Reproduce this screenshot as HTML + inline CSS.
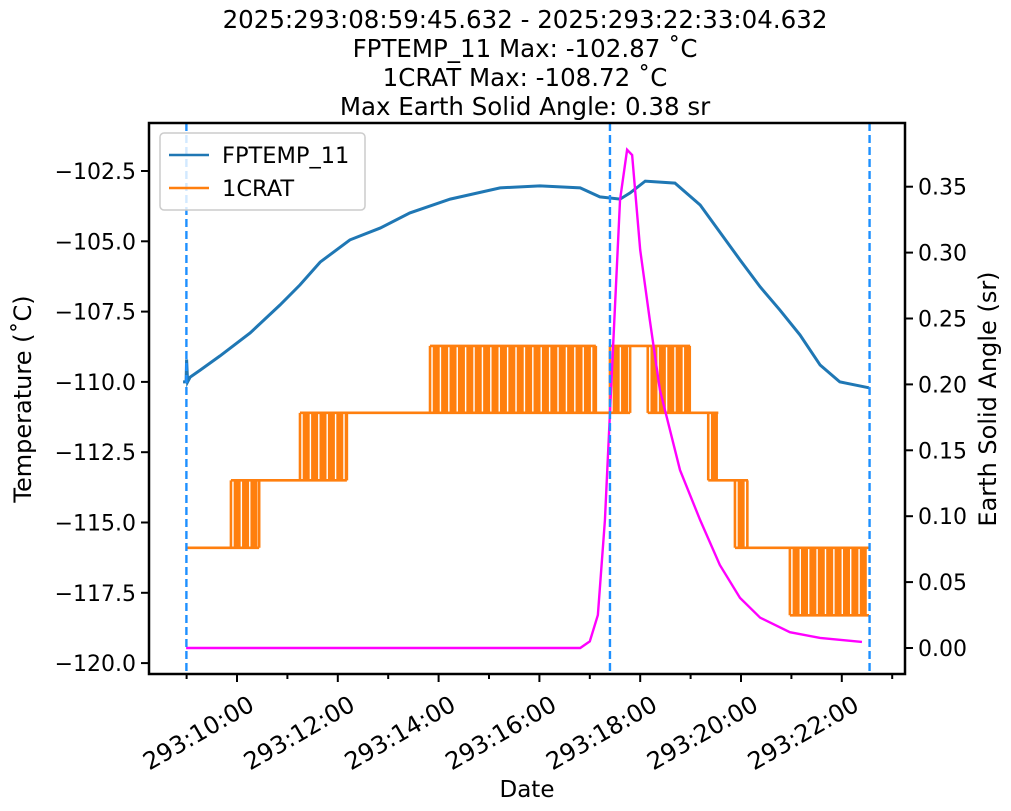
<!DOCTYPE html>
<html><head><meta charset="utf-8">
<style>
html,body{margin:0;padding:0;background:#fff;}
svg{display:block;font-family:"DejaVu Sans","Liberation Sans",sans-serif;}
</style></head>
<body>
<svg id="chart" width="1011" height="811" viewBox="0 0 1011 811" style="position:absolute;left:0;top:0">
  <g font-size="24.5" text-anchor="middle" fill="#000">
    <text x="525" y="28">2025:293:08:59:45.632 - 2025:293:22:33:04.632</text>
    <text x="525" y="57">FPTEMP_11 Max: -102.87 ˚C</text>
    <text x="525" y="86">1CRAT Max: -108.72 ˚C</text>
    <text x="525" y="115">Max Earth Solid Angle: 0.38 sr</text>
  </g>
  <g id="marks"></g>
  <g id="axes"></g>
</svg>
<script>
// ---- data ----
const tempHours = [8.93,8.99,9.0,9.02,9.07,9.27,9.66,10.26,10.85,11.25,11.65,12.24,12.84,13.43,14.23,15.22,16.01,16.81,17.2,17.6,17.8,18.1,18.69,19.19,19.98,20.38,20.77,21.17,21.57,21.96,22.54];
const tempValues = [-110.0,-110.0,-109.2,-110.0,-109.83,-109.58,-109.08,-108.26,-107.27,-106.55,-105.74,-104.95,-104.53,-103.99,-103.5,-103.1,-103.03,-103.1,-103.42,-103.5,-103.28,-102.86,-102.93,-103.71,-105.66,-106.62,-107.44,-108.33,-109.4,-110.0,-110.21];
// 1CRAT segments: start hour, end hour, low level, high level (toggling when different)
const cratStart = [8.99,9.88,10.44,11.25,12.18,13.83,17.12,17.4,17.8,18.15,18.99,19.35,19.55,19.88,20.14,20.97];
const cratEnd   = [9.88,10.44,11.25,12.18,13.83,17.12,17.4,17.8,18.15,18.99,19.35,19.55,19.88,20.14,20.97,22.54];
const cratLow   = [-115.9,-115.9,-113.5,-113.5,-111.1,-111.1,-111.1,-111.1,-108.72,-111.1,-111.1,-113.5,-113.5,-115.9,-115.9,-118.3];
const cratHigh  = [-115.9,-113.5,-113.5,-111.1,-111.1,-108.72,-111.1,-108.72,-108.72,-108.72,-111.1,-111.1,-113.5,-113.5,-115.9,-115.9];
const angleHours = [8.99,16.81,17.0,17.16,17.3,17.44,17.6,17.74,17.84,18.0,18.19,18.39,18.79,19.19,19.58,19.98,20.38,20.97,21.57,22.4];
const angleValues = [0,0,0.005,0.025,0.097,0.211,0.34,0.378,0.374,0.302,0.249,0.196,0.135,0.097,0.063,0.038,0.023,0.012,0.0076,0.0046];
const vlineHours = [8.996,17.4,22.551];
const xTickHours = [10,12,14,16,18,20,22];
const xTickLabels = ["293:10:00","293:12:00","293:14:00","293:16:00","293:18:00","293:20:00","293:22:00"];
const yTicks = [-102.5,-105,-107.5,-110,-112.5,-115,-117.5,-120];
const yTickLabels = ["−102.5","−105.0","−107.5","−110.0","−112.5","−115.0","−117.5","−120.0"];
const y2Ticks = [0,0.05,0.1,0.15,0.2,0.25,0.3,0.35];
const y2TickLabels = ["0.00","0.05","0.10","0.15","0.20","0.25","0.30","0.35"];

// ---- scales ----
const L=149,R=905,T=123,B=674;
const xs = h => 237 + (h-10)*50.4;
const ys = v => 171 + (-102.5 - v)/2.5*70.3;
const y2s = v => 648 - v/0.05*65.9;
const NS="http://www.w3.org/2000/svg";
const marks=document.getElementById('marks'), axes=document.getElementById('axes');
function mk(tag,attrs,parent){const e=document.createElementNS(NS,tag);for(const k in attrs)e.setAttribute(k,attrs[k]);parent.appendChild(e);return e;}

const defs=mk('defs',{},marks);
const cp=mk('clipPath',{id:'clip'},defs);
mk('rect',{x:L,y:T,width:R-L,height:B-T},cp);
const g=mk('g',{'clip-path':'url(#clip)'},marks);

// 1CRAT
let d='';
for(let i=0;i<cratStart.length;i++){
  const x0=xs(cratStart[i]),x1=xs(cratEnd[i]),yl=ys(cratLow[i]),yh=ys(cratHigh[i]);
  if(cratLow[i]===cratHigh[i]){d+=`M${x0},${yl}H${x1}`;}
  else{
    d+=`M${x0},${yl}H${x1}M${x0},${yh}H${x1}`;
    let k=0;
    for(let x=x0;x<=x1;x+=(k%3===0?4:2.2),k++){d+=`M${x},${yl}V${yh}`;}
  }
  if(i>0){d+=`M${x0},${ys(cratLow[i-1])}V${ys(cratLow[i])}`;}
}
const crat=mk('path',{d:d,fill:'none',stroke:'#ff7f0e','stroke-width':2.6},g);



// FPTEMP
const temp=mk('polyline',{points:tempHours.map((h,i)=>xs(h)+','+ys(tempValues[i])).join(' '),fill:'none',stroke:'#1f77b4','stroke-width':3},g);



// angle
const ang=mk('polyline',{points:angleHours.map((h,i)=>xs(h)+','+y2s(angleValues[i])).join(' '),fill:'none',stroke:'#ff00ff','stroke-width':2.4},g);



vlineHours.forEach(h=>{
  const l=mk('line',{x1:xs(h),x2:xs(h),y1:T,y2:B,stroke:'#1e90ff','stroke-width':2.4,'stroke-dasharray':'8,4'},marks);
  
  
});

const fr=mk('rect',{x:L,y:T,width:R-L,height:B-T,fill:'none',stroke:'#000','stroke-width':2.5},axes);



for(let h=9;h<=23;h++){
  const x=xs(h); if(x<L||x>R)continue;
  const major=h%2===0;
  mk('line',{x1:x,x2:x,y1:B,y2:B+(major?8:5),stroke:'#000','stroke-width':2},axes);
}
xTickHours.forEach((h,i)=>{
  const x=xs(h)+10, y=B+20;
  const t=mk('text',{x:x,y:y,'font-size':24,'text-anchor':'end',transform:`rotate(-30 ${x} ${y})`,'dominant-baseline':'hanging'},axes);
  t.textContent=xTickLabels[i];
  
  
});
yTicks.forEach((v,i)=>{
  const y=ys(v);
  mk('line',{x1:L-8,x2:L,y1:y,y2:y,stroke:'#000','stroke-width':2},axes);
  const t=mk('text',{x:L-13,y:y+8,'font-size':22,'text-anchor':'end'},axes);
  t.textContent=yTickLabels[i];
  
  
});
y2Ticks.forEach((v,i)=>{
  const y=y2s(v);
  mk('line',{x1:R,x2:R+8,y1:y,y2:y,stroke:'#000','stroke-width':2},axes);
  const t=mk('text',{x:R+13,y:y+8,'font-size':22},axes);
  t.textContent=y2TickLabels[i];
  
  
});
</script>
<svg style="position:absolute;left:0;top:0" width="1011" height="811">
  <text x="527" y="797" font-size="23" text-anchor="middle">Date</text>
  <text x="31" y="399" font-size="24" text-anchor="middle" transform="rotate(-90 31 399)">Temperature (˚C)</text>
  <text x="996" y="399" font-size="24" text-anchor="middle" transform="rotate(-90 996 399)">Earth Solid Angle (sr)</text>
  <g>
    <rect x="160" y="133" width="205" height="77" rx="4" fill="#fff" fill-opacity="0.8" stroke="#ccc" stroke-width="1.5"/>
    <g>
      <line x1="169" y1="155" x2="209" y2="155" stroke="#1f77b4" stroke-width="2.5"/>
      <text x="222" y="163" font-size="22.5">FPTEMP_11</text>
    </g>
    <g>
      <line x1="169" y1="188" x2="209" y2="188" stroke="#ff7f0e" stroke-width="2.5"/>
      <text x="222" y="196" font-size="22.5">1CRAT</text>
    </g>
  </g>
</svg>
</body></html>
